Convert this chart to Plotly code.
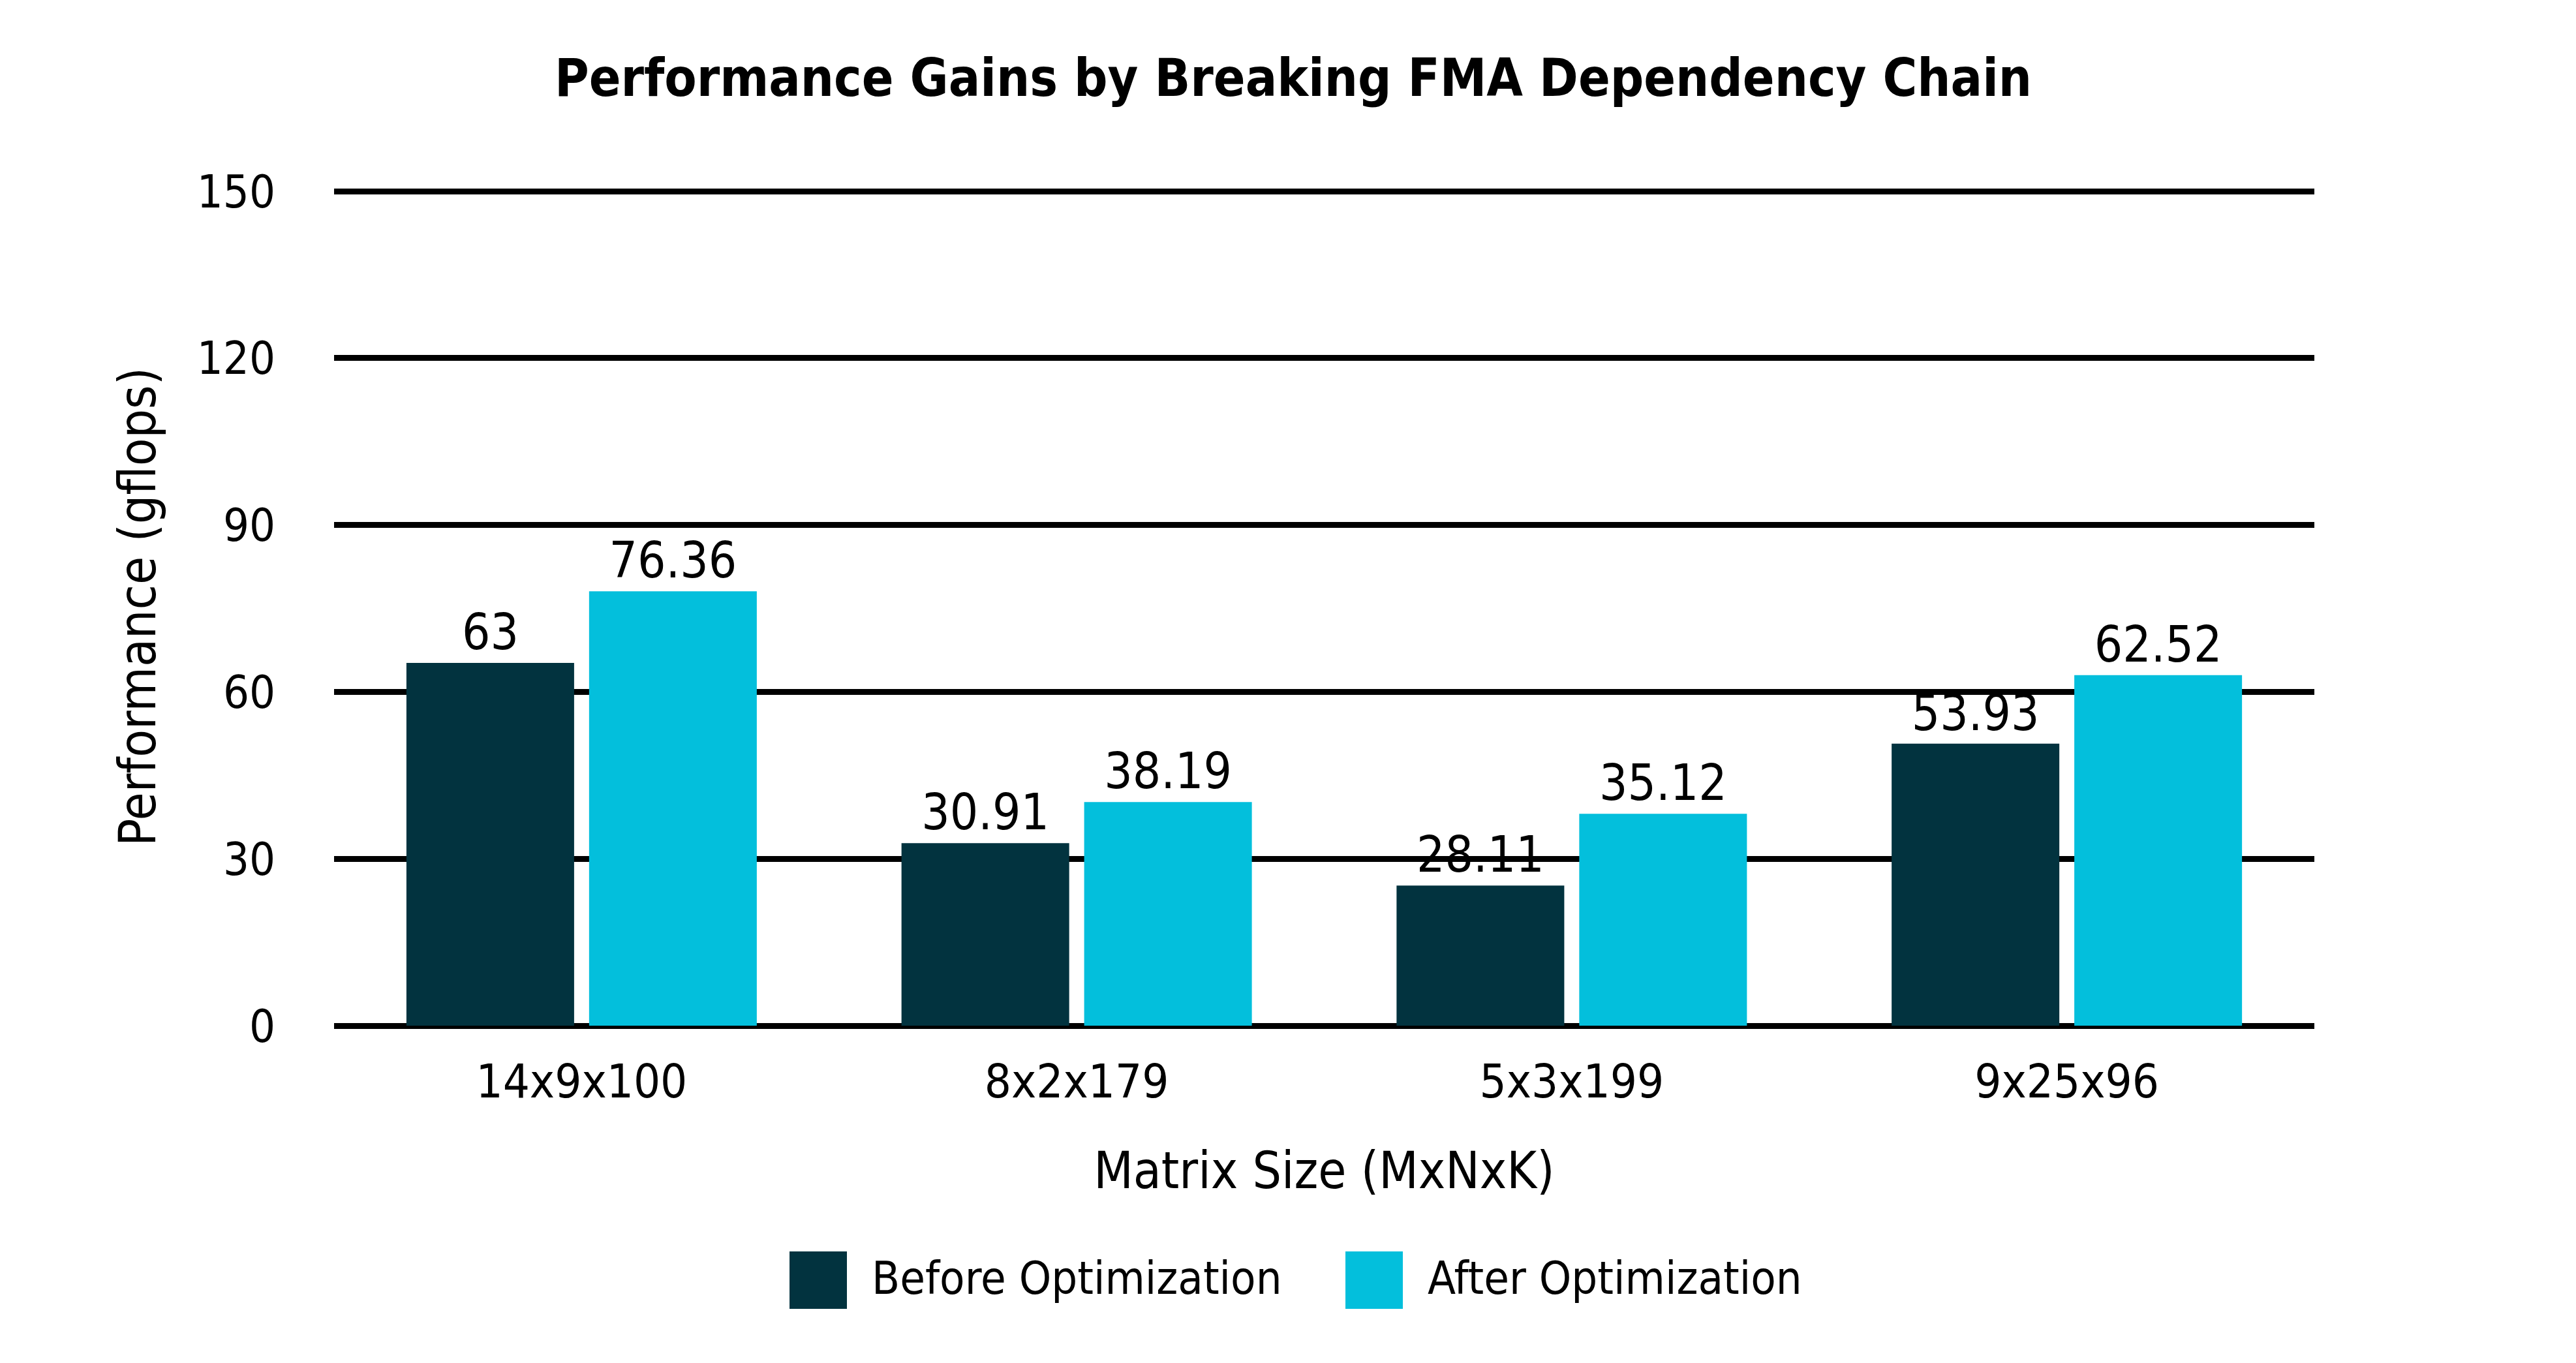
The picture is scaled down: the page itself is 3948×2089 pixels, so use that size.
import plotly.graph_objects as go

sizes = ["14x9x100", "8x2x179", "5x3x199", "9x25x96"]
series_names = ["Before Optimization", "After Optimization"]
# bar heights as drawn in the picture
before = [65.2, 32.8, 25.2, 50.7]
after = [78.1, 40.2, 38.1, 63.0]
# value labels printed above the bars
before_labels = ["63", "30.91", "28.11", "53.93"]
after_labels = ["76.36", "38.19", "35.12", "62.52"]
y_ticks = [0, 30, 60, 90, 120, 150]

dark = "#02333F"
cyan = "#03BFDC"
font = "DejaVu Sans Condensed, Liberation Sans Narrow, sans-serif"

fig = go.Figure()
fig.add_trace(go.Bar(x=sizes, y=before, name=series_names[0], marker_color=dark,
                     marker_line_width=0, text=before_labels, textposition="outside",
                     textfont=dict(size=76, color="black", family=font),
                     cliponaxis=False, showlegend=False))
fig.add_trace(go.Bar(x=sizes, y=after, name=series_names[1], marker_color=cyan,
                     marker_line_width=0, text=after_labels, textposition="outside",
                     textfont=dict(size=76, color="black", family=font),
                     cliponaxis=False, showlegend=False))

# plot area in page pixels, used to place the hand-drawn legend
left, top, plot_w, plot_h = 504, 280, 3035, 1284

# legend drawn by hand so the swatches can be large squares
swatch = [(1202, 1290), (2054, 2142)]
for (x0, x1), name, col in zip(swatch, series_names, [dark, cyan]):
    fig.add_shape(type="rect", xref="paper", yref="paper",
                  x0=(x0 - left) / plot_w, x1=(x1 - left) / plot_w,
                  y0=1 - (1998 - top) / plot_h, y1=1 - (1910 - top) / plot_h,
                  fillcolor=col, line_width=0)
    fig.add_annotation(text=name, xref="paper", yref="paper",
                       x=(x1 + 36 - left) / plot_w, y=1 - (1951 - top) / plot_h,
                       xanchor="left", yanchor="middle", showarrow=False,
                       font=dict(size=70, color="black", family=font))

fig.update_layout(
    width=3948, height=2089,
    margin=dict(l=left, r=3948 - left - plot_w, t=top, b=2089 - top - plot_h),
    paper_bgcolor="white", plot_bgcolor="white",
    barmode="group", bargap=0.262, bargroupgap=0.082,
    title=dict(text="<b>Performance Gains by Breaking FMA Dependency Chain</b>",
               x=0.5, xanchor="center", y=1 - 111 / 2089, yanchor="middle",
               font=dict(size=80, color="black", family=font)),
    font=dict(family=font, color="black", size=72),
)
fig.update_yaxes(range=[0, 150.6], tickvals=y_ticks, showgrid=True, gridcolor="black",
                 gridwidth=9, zeroline=True, zerolinecolor="black", zerolinewidth=9,
                 showline=False, ticks="", ticklabelstandoff=89,
                 tickfont=dict(size=70, family=font, color="black"),
                 title=dict(text="Performance (gflops)", standoff=37,
                            font=dict(size=78, family=font, color="black")))
fig.update_xaxes(showgrid=False, showline=False, ticks="", ticklabelstandoff=37,
                 tickfont=dict(size=72, family=font, color="black"),
                 title=dict(text="Matrix Size (MxNxK)", standoff=68,
                            font=dict(size=78, family=font, color="black")))

fig.write_html("out.html")
